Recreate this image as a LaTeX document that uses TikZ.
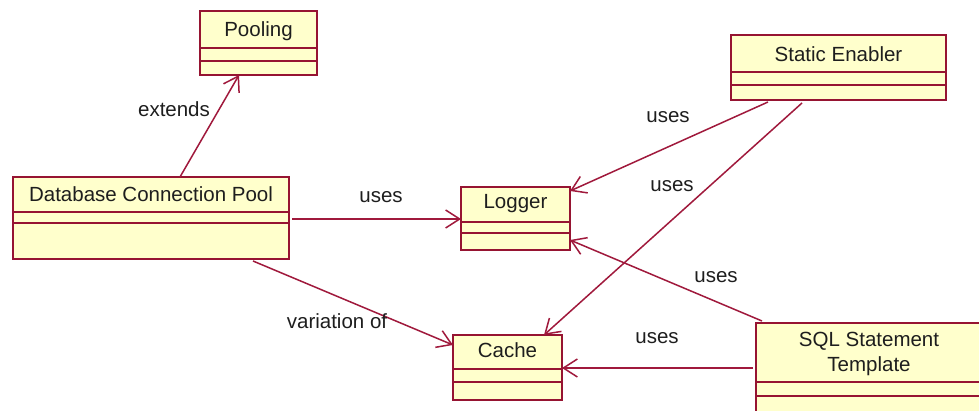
\documentclass[tikz,border=0pt]{standalone}
\usepackage{fontspec}
\setmainfont{Liberation Sans}
\usetikzlibrary{arrows.meta,calc}
\definecolor{umlline}{RGB}{160,25,60}
\definecolor{umlborder}{RGB}{150,20,50}
\definecolor{umlfill}{RGB}{255,255,204}
\definecolor{umltext}{RGB}{30,30,30}
\tikzset{
  classbox/.style={draw=umlborder, fill=umlfill, line width=1pt, rectangle, inner sep=0pt, outer sep=0pt},
  classboxline/.style={draw=umlborder, line width=1pt},
  classname/.style={text=umltext, inner sep=0pt, align=center, anchor=base},
  lbl/.style={text=umltext, inner sep=0pt, anchor=base},
  dep/.style={draw=umlline, line width=0.75pt, -{Straight Barb[length=7pt,width=9pt,line width=0.75pt]}},
}
\newcommand{\umlclass}[7]{%
  \node[classbox, anchor=north west, minimum width={(#4-#2)*0.5pt}, minimum height={(#5-#3)*0.5pt}] (#1) at (#2,#3) {};
  \draw[classboxline] (#2,#6) -- (#4,#6);
  \draw[classboxline] (#2,#7) -- (#4,#7);
}
\begin{document}
\begin{tikzpicture}[x=0.5pt, y=-0.5pt, font=\fontsize{10.25}{12.5}\selectfont]
\useasboundingbox (0,0) rectangle (979,411);
\clip (0,0) rectangle (979,411);
\fill[white] (0,0) rectangle (979,411);
% classes
\umlclass{pool}{200}{11}{317}{75}{48}{61}
\umlclass{dcp}{13}{177}{289}{259}{212}{223}
\umlclass{logger}{461}{187}{570}{250}{222}{233}
\umlclass{cache}{453}{335}{562}{400}{369}{382}
\umlclass{senabler}{731}{35}{946}{100}{72}{85}
\umlclass{sqlt}{756}{323}{1010}{440}{382}{396}
\node[classname] (poolT) at (258.5,37) {Pooling};
\node[classname] (dcpT) at (151,202) {Database Connection Pool};
\node[classname] (loggerT) at (515.5,209) {Logger};
\node[classname] (cacheT) at (507.5,357) {Cache};
\node[classname] (senablerT) at (838.5,62) {Static Enabler};
\node[classname] (sqltT1) at (869,346) {SQL Statement};
\node[classname] (sqltT2) at (869,371) {Template};
% connectors
\draw[dep] ($(dcp.north west)+(167,0)$) -- ($(pool.south west)+(39,0)$);
\draw[dep] ($(dcp.north east)+(3,42)$) -- ($(logger.north west)+(0,32)$);
\draw[dep] ($(dcp.south west)+(240,2)$) -- ($(cache.north west)+(0,10)$);
\draw[dep] ($(senabler.south west)+(37,2)$) -- ($(logger.north east)+(0,4)$);
\draw[dep] ($(senabler.south west)+(71,3)$) -- ($(cache.north west)+(91,0)$);
\draw[dep] ($(sqlt.north west)+(6,-2)$) -- ($(logger.south east)+(0,-10)$);
\draw[dep] ($(sqlt.north west)+(-3,45)$) -- ($(cache.north east)+(0,33)$);
% labels
\node[lbl] (extL) at (174,117) {extends};
\node[lbl] (uses1) at (381,203) {uses};
\node[lbl] (varL) at (337,328) {variation of};
\node[lbl] (uses2) at (668,123) {uses};
\node[lbl] (uses3) at (672,192) {uses};
\node[lbl] (uses4) at (716,282) {uses};
\node[lbl] (uses5) at (657,343) {uses};
\end{tikzpicture}
\end{document}
